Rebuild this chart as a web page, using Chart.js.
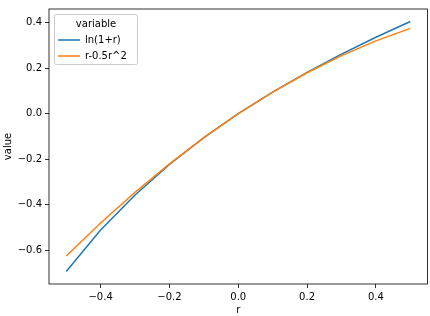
<!DOCTYPE html>
<html><head><meta charset="utf-8">
<script src="https://cdn.jsdelivr.net/npm/chart.js@4"></script>
<style>html,body{margin:0;padding:0;background:#fff}#c{display:block}</style>
</head><body>
<canvas id="c" width="430" height="316"></canvas>
<script>
const rValues = [-0.5, -0.4, -0.3, -0.2, -0.1, 0.0, 0.1, 0.2, 0.3, 0.4, 0.5];
const lnValues = [-0.693, -0.511, -0.357, -0.223, -0.105, 0.0, 0.095, 0.182, 0.262, 0.336, 0.405];
const taylorValues = [-0.625, -0.48, -0.345, -0.22, -0.105, 0.0, 0.095, 0.18, 0.255, 0.32, 0.375];
const seriesNames = ['ln(1+r)', 'r-0.5r^2'];
const xTicks = [-0.4, -0.2, 0.0, 0.2, 0.4];
const yTicks = [-0.6, -0.4, -0.2, 0.0, 0.2, 0.4];
const legendTitle = 'variable';
const xTitle = 'r';
const yTitle = 'value';

const FONT = 'DejaVu Sans';
Chart.defaults.font.family = FONT;
Chart.defaults.font.size = 10;
Chart.defaults.color = '#000';

const fmt = v => { const s = Math.abs(v).toFixed(1); return (v < -1e-9 ? '\u2212' : '') + s; };

const frame = {
  id: 'frame',
  afterDatasetsDraw(chart) {
    const {ctx, chartArea: a} = chart;
    ctx.save();
    ctx.strokeStyle = '#000';
    ctx.lineWidth = 0.8;
    ctx.strokeRect(a.left, a.top, a.right - a.left, a.bottom - a.top);
    // legend
    const x0 = a.left + 5, y0 = a.top + 5, w = 83, h = 50;
    ctx.fillStyle = 'rgba(255,255,255,0.8)';
    ctx.strokeStyle = '#ccc';
    ctx.lineWidth = 1;
    ctx.beginPath();
    ctx.roundRect(x0 + 0.5, y0 + 0.5, w, h, 2);
    ctx.fill(); ctx.stroke();
    ctx.fillStyle = '#000';
    ctx.font = '10px "' + FONT + '"';
    ctx.textBaseline = 'middle';
    ctx.textAlign = 'center';
    ctx.fillText(legendTitle, x0 + w / 2 + 0.5, y0 + 10);
    ctx.textAlign = 'left';
    chart.data.datasets.forEach((ds, i) => {
      const yy = y0 + 26 + i * 16;
      ctx.strokeStyle = ds.borderColor;
      ctx.lineWidth = 1.5;
      ctx.beginPath(); ctx.moveTo(x0 + 4, yy); ctx.lineTo(x0 + 26, yy); ctx.stroke();
      ctx.fillStyle = '#000';
      ctx.fillText(ds.label, x0 + 31, yy);
    });
    ctx.restore();
  }
};

new Chart(document.getElementById('c'), {
  type: 'line',
  data: {
    datasets: [
      { label: seriesNames[0], data: rValues.map((r, i) => ({x: r, y: lnValues[i]})), borderColor: '#1f77b4', borderWidth: 1.5, pointRadius: 0, tension: 0, order: 2 },
      { label: seriesNames[1], data: rValues.map((r, i) => ({x: r, y: taylorValues[i]})), borderColor: '#ff7f0e', borderWidth: 1.5, pointRadius: 0, tension: 0, order: 1 }
    ]
  },
  options: {
    responsive: false,
    animation: false,
    layout: { padding: { top: 2, right: 2.5, left: 0, bottom: 0 } },
    plugins: { legend: { display: false }, tooltip: { enabled: false } },
    scales: {
      x: {
        type: 'linear', min: -0.55, max: 0.55,
        afterBuildTicks: s => { s.ticks = xTicks.map(v => ({value: v})); },
        afterFit: s => { s.height = 32; },
        ticks: { callback: v => fmt(v), padding: 3, maxRotation: 0, autoSkip: false, color: '#000' },
        grid: { drawOnChartArea: false, drawTicks: true, tickLength: 4, color: '#000', lineWidth: 0.8 },
        border: { display: false },
        title: { display: true, text: xTitle, padding: { top: 0, bottom: 0 }, color: '#000' }
      },
      y: {
        type: 'linear', min: -0.748, max: 0.46,
        afterBuildTicks: s => { s.ticks = yTicks.map(v => ({value: v})); },
        afterFit: s => { s.width = 49; },
        ticks: { callback: v => fmt(v), padding: 3, autoSkip: false, color: '#000' },
        grid: { drawOnChartArea: false, drawTicks: true, tickLength: 4, color: '#000', lineWidth: 0.8 },
        border: { display: false },
        title: { display: true, text: yTitle, padding: { top: 2, bottom: 0 }, color: '#000' }
      }
    }
  },
  plugins: [frame]
});
</script>
</body></html>
